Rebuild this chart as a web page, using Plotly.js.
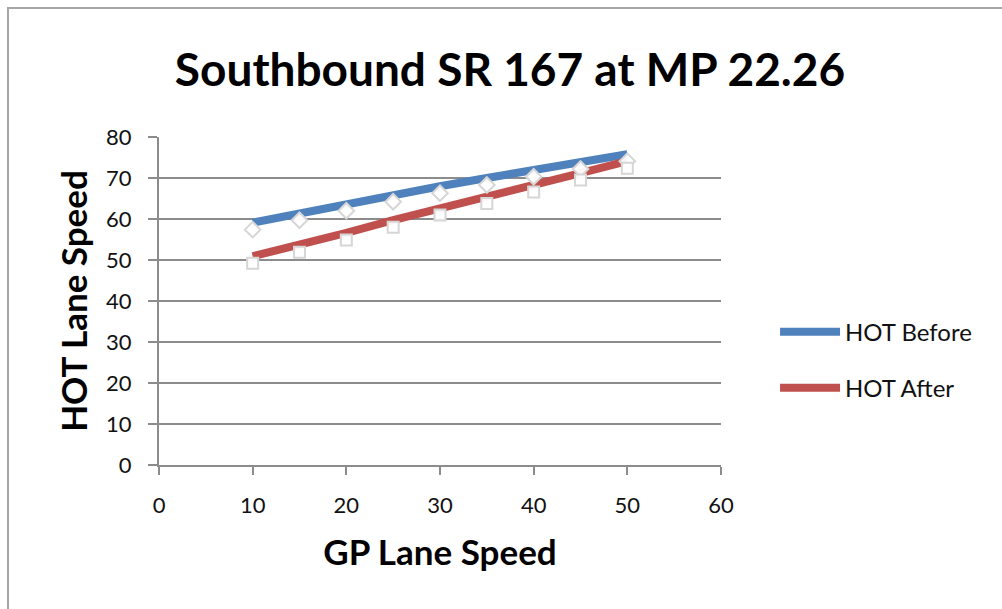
<!DOCTYPE html>
<html>
<head>
<meta charset="utf-8">
<script src="https://cdn.plot.ly/plotly-3.0.1.min.js"></script>
<style>
  html, body { margin: 0; padding: 0; background: #fff; }
  #wrap { position: relative; width: 1002px; height: 609px; overflow: hidden; }
  #chart { position: absolute; left: 0; top: 0; width: 1002px; height: 609px; }
  #frame { position: absolute; left: 7px; top: 7px; width: 1100px; height: 700px;
           border-left: 2px solid #a6a6a6; border-top: 2px solid #a6a6a6; pointer-events: none; }
</style>
</head>
<body>
<div id="wrap">
  <div id="chart"></div>
  <div id="frame"></div>
</div>
<script>
// Data
const gpSpeed = [10, 15, 20, 25, 30, 35, 40, 45, 50];
const hotBefore = [59.1, 61.4, 63.7, 65.9, 68.0, 70.0, 72.0, 73.9, 75.8];
const hotAfter = [50.9, 53.6, 56.6, 59.7, 62.7, 65.5, 68.3, 71.2, 74.1];
const seriesNames = ['HOT Before', 'HOT After'];
const xTicks = [0, 10, 20, 30, 40, 50, 60];
const yTicks = [0, 10, 20, 30, 40, 50, 60, 70, 80];

const FONT = 'Lato, "Open Sans", "DejaVu Sans", sans-serif';
const gridColor = '#8c8c8c';

const traces = [
  // faint shadowed markers (Excel style), drawn under the lines
  { x: gpSpeed, y: hotBefore, yaxis: 'y2', mode: 'markers', showlegend: false, hoverinfo: 'skip',
    marker: { symbol: 'diamond', size: 12, color: 'rgba(255,255,255,0.95)', line: { color: '#d6d6d6', width: 2 } } },
  { x: gpSpeed, y: hotAfter, yaxis: 'y2', mode: 'markers', showlegend: false, hoverinfo: 'skip',
    marker: { symbol: 'square', size: 11, color: 'rgba(255,255,255,0.95)', line: { color: '#d6d6d6', width: 2 } } },
  { x: gpSpeed, y: hotBefore, name: seriesNames[0], mode: 'lines', legendgroup: 'a',
    line: { color: '#4f81bd', width: 8 } },
  { x: gpSpeed, y: hotAfter, name: seriesNames[1], mode: 'lines', legendgroup: 'b',
    line: { color: '#c0504d', width: 8 } }
];

const layout = {
  width: 1002, height: 609,
  paper_bgcolor: '#fff', plot_bgcolor: '#fff',
  margin: { l: 159, r: 281, t: 137, b: 144, autoexpand: false },
  font: { family: FONT, color: '#111' },
  title: { text: '<b>Southbound SR 167 at MP 22.26</b>', font: { size: 46, family: FONT, color: '#000' },
           x: 0.509, xref: 'container', xanchor: 'center', y: 0.885, yanchor: 'middle' },
  xaxis: {
    range: [0, 60], tickvals: xTicks, ticktext: xTicks.map(String),
    showgrid: false, zeroline: false, showline: true, linecolor: gridColor, linewidth: 2,
    ticks: 'outside', ticklen: 8, tickcolor: gridColor, tickwidth: 2,
    ticklabelstandoff: 12,
    tickfont: { size: 22, color: '#111' },
    title: { text: '<b>GP Lane Speed</b>', font: { size: 35, color: '#000' }, standoff: 23 }
  },
  yaxis: {
    range: [0, 80], tickvals: yTicks, ticktext: yTicks.map(String),
    showgrid: true, gridcolor: gridColor, gridwidth: 1.6, zeroline: false,
    showline: true, linecolor: gridColor, linewidth: 2,
    ticks: 'outside', ticklen: 9, tickcolor: gridColor, tickwidth: 2,
    ticklabelstandoff: 12,
    tickfont: { size: 22, color: '#111' },
    title: { text: '<b>HOT Lane Speed</b>', font: { size: 35, color: '#000' }, standoff: 8 }
  },
  yaxis2: { overlaying: 'y', range: [1.7, 81.7], visible: false, showgrid: false },
  showlegend: true,
  legend: {
    xref: 'container', x: 0.7735, xanchor: 'left', y: 0.32, yanchor: 'middle',
    traceorder: 'grouped', tracegroupgap: 22, itemwidth: 60,
    font: { size: 24, color: '#111' }, bgcolor: 'rgba(0,0,0,0)', borderwidth: 0
  }
};

Plotly.newPlot('chart', traces, layout, { displayModeBar: false, staticPlot: true });
</script>
</body>
</html>
